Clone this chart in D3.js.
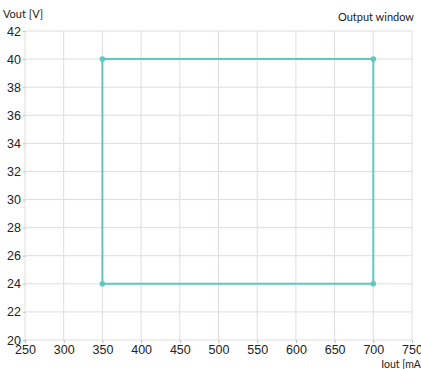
<!DOCTYPE html>
<html><head><meta charset="utf-8">
<script src="https://cdn.jsdelivr.net/npm/d3@7"></script>
<style>body{margin:0;background:#fff}svg{display:block;font-family:Lato,"Noto Sans",sans-serif}</style>
</head><body><svg id="c" width="421" height="369"></svg>
<script>
const xTicks = [250,300,350,400,450,500,550,600,650,700,750];
const yTicks = [20,22,24,26,28,30,32,34,36,38,40,42];
const iout = [350,700,700,350,350];
const vout = [40,40,24,24,40];
const pointsI = [350,700,350,700];
const pointsV = [40,40,24,24];

const svg = d3.select("#c");
const x = d3.scaleLinear().domain([250,750]).range([25,412]);
const y = d3.scaleLinear().domain([20,42]).range([340,31]);

const grid = "#e2dcdc";
svg.append("g").selectAll("line").data(xTicks).join("line")
  .attr("x1",d=>x(d)).attr("x2",d=>x(d)).attr("y1",y(42)).attr("y2",y(20))
  .attr("stroke",grid).attr("stroke-width",1);
svg.append("g").selectAll("line").data(yTicks).join("line")
  .attr("x1",x(250)).attr("x2",x(750)).attr("y1",d=>y(d)).attr("y2",d=>y(d))
  .attr("stroke",grid).attr("stroke-width",1);

const xa = svg.append("g").attr("transform",`translate(0,${y(20)})`)
  .call(d3.axisBottom(x).tickValues(xTicks).tickSize(3).tickPadding(2));
xa.select(".domain").remove();
xa.selectAll("line").attr("stroke","#bbb");
xa.selectAll("text").attr("font-size",12.5).attr("fill","#222");

const ya = svg.append("g").attr("transform",`translate(${x(250)},0)`)
  .call(d3.axisLeft(y).tickValues(yTicks).tickSize(2).tickPadding(2));
ya.select(".domain").remove();
ya.selectAll("line").attr("stroke","#bbb");
ya.selectAll("text").attr("font-size",12.5).attr("fill","#222");

const teal = "#5ec9c1";
svg.append("path").datum(iout.map((d,i)=>[d,vout[i]]))
  .attr("d", d3.line().x(d=>x(d[0])).y(d=>y(d[1])))
  .attr("fill","none").attr("stroke",teal).attr("stroke-width",2);
svg.append("g").selectAll("circle").data(pointsI.map((d,i)=>[d,pointsV[i]])).join("circle")
  .attr("cx",d=>x(d[0])).attr("cy",d=>y(d[1])).attr("r",2.8).attr("fill",teal);

svg.append("text").attr("x",3).attr("y",18).attr("font-size",11).attr("fill","#222").text("Vout [V]");
svg.append("text").attr("x",414).attr("y",21).attr("text-anchor","end").attr("font-size",11).attr("fill","#222").text("Output window");
svg.append("text").attr("x",424).attr("y",368).attr("text-anchor","end").attr("font-size",10.5).attr("fill","#222").text("Iout [mA]");
</script></body></html>
